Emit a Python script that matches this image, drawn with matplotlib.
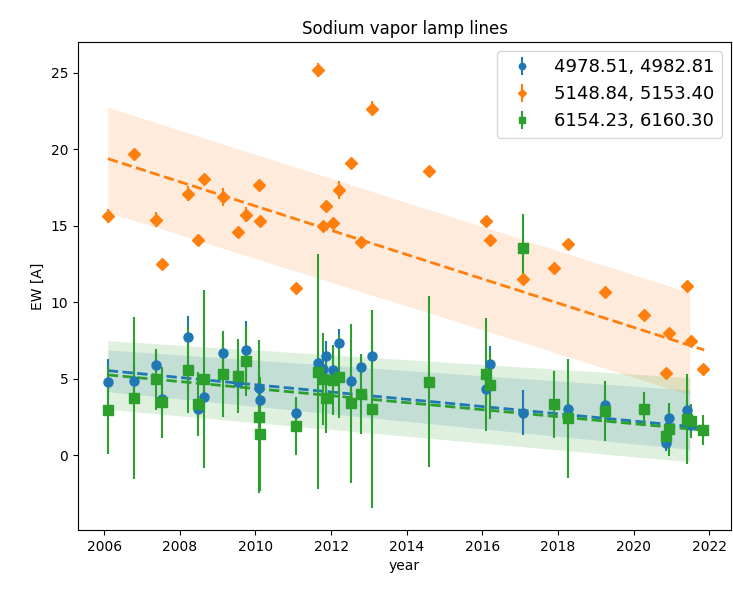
import numpy as np
import matplotlib
matplotlib.use("Agg")
import matplotlib.pyplot as plt

# ---- data ----
years = [2006.10, 2006.80, 2007.37, 2007.54, 2008.22, 2008.47, 2008.65, 2009.13,
         2009.53, 2009.74, 2010.09, 2010.11, 2011.08, 2011.65, 2011.78, 2011.87,
         2012.05, 2012.21, 2012.52, 2012.79, 2013.08, 2014.60, 2016.09, 2016.20,
         2017.06, 2017.89, 2018.26, 2019.23, 2020.28, 2020.86, 2020.94, 2021.41,
         2021.51, 2021.83]

# blue series has no visible points at 2014.60, 2017.89, 2020.28, 2021.83
years_b = [2006.10, 2006.80, 2007.37, 2007.54, 2008.22, 2008.47, 2008.65, 2009.13,
           2009.53, 2009.74, 2010.09, 2010.11, 2011.08, 2011.65, 2011.78, 2011.87,
           2012.05, 2012.21, 2012.52, 2012.79, 2013.08, 2016.09, 2016.20, 2017.06,
           2018.26, 2019.23, 2020.86, 2020.94, 2021.41, 2021.51]
ew_b = [4.76, 4.86, 5.89, 3.66, 7.70, 3.01, 3.82, 6.65, 4.80, 6.87, 4.36, 3.60,
        2.77, 6.00, 5.61, 6.48, 5.56, 7.35, 4.84, 5.78, 6.48, 4.30, 5.96, 2.77,
        3.01, 3.27, 0.77, 2.40, 2.94, 1.96]
err_b = [1.5, 1.0, 1.0, 1.0, 1.4, 0.8, 1.0, 1.0, 1.0, 1.9, 1.0, 1.0, 0.6, 1.0,
         1.0, 1.0, 1.0, 0.9, 1.0, 0.8, 1.0, 1.0, 1.2, 1.45, 0.8, 0.8, 0.5, 0.6,
         0.8, 0.6]

ew_o = [15.64, 19.68, 15.38, 12.50, 17.08, 14.07, 18.04, 16.86, 14.57, 15.71,
        17.62, 15.33, 10.90, 25.15, 14.99, 16.25, 15.20, 17.34, 19.09, 13.92,
        22.64, 18.59, 15.33, 14.03, 11.50, 12.22, 13.81, 10.65, 9.16, 5.35,
        7.96, 11.08, 7.48, 5.63]
err_o = [0.45, 0.3, 0.5, 0.3, 0.5, 0.3, 0.3, 0.6, 0.3, 0.5, 0.3, 0.3, 0.3, 0.45,
         0.3, 0.3, 0.3, 0.6, 0.3, 0.3, 0.5, 0.3, 0.3, 0.3, 0.3, 0.3, 0.3, 0.3,
         0.3, 0.3, 0.3, 0.3, 0.3, 0.3]

ew_g = [2.95, 3.71, 4.95, 3.44, 5.56, 3.34, 4.97, 5.28, 5.17, 6.15, 2.51, 1.37,
        1.90, 5.45, 4.95, 3.71, 4.91, 5.13, 3.38, 3.99, 3.01, 4.80, 5.28, 4.58,
        13.53, 3.32, 2.40, 2.88, 3.01, 1.26, 1.68, 2.34, 2.23, 1.64]
err_g = [2.9, 5.3, 2.0, 2.3, 2.8, 2.1, 5.8, 2.8, 2.4, 2.3, 5.0, 3.7, 1.9, 7.7,
         3.0, 2.3, 2.3, 2.7, 5.2, 2.6, 6.5, 5.6, 3.7, 2.2, 2.2, 2.2, 3.9, 1.95,
         1.1, 0.7, 1.75, 2.95, 1.1, 1.0]

labels = ["4978.51, 4982.81", "5148.84, 5153.40", "6154.23, 6160.30"]

# fitted trend lines and bands (end values)
fit_x = [2006.10, 2021.86]
band_x = [2006.10, 2021.48]
fit_b = [5.52, 1.78]
band_b_hi = [6.87, 4.25]
band_b_lo = [4.14, 0.37]
fit_o = [19.37, 6.87]
band_o_hi = [22.73, 10.62]
band_o_lo = [15.88, 3.93]
fit_g = [5.24, 1.62]
band_g_hi = [7.48, 5.06]
band_g_lo = [2.99, -0.44]

# ---- plot ----
fig = plt.figure(figsize=(7.33, 5.9), dpi=100)
ax = fig.add_axes([78 / 733, 60 / 590, 653 / 733, 488 / 590])

series = [
    (years_b, ew_b, err_b, "o", "C0", fit_b, band_b_lo, band_b_hi, labels[0]),
    (years, ew_o, err_o, "D", "C1", fit_o, band_o_lo, band_o_hi, labels[1]),
    (years, ew_g, err_g, "s", "C2", fit_g, band_g_lo, band_g_hi, labels[2]),
]

for x, y, e, m, c, fit, lo, hi, lab in series:
    ax.errorbar(x, y, yerr=e, fmt=m, color=c, markersize=6.5, label=lab, zorder=3)
    ax.plot(fit_x, fit, "--", color=c, linewidth=2, zorder=2)
    ax.fill_between(band_x, lo, hi, color=c, alpha=0.15, linewidth=0, zorder=1)

ax.set_xlim(2005.31, 2022.57)
ax.set_ylim(-4.9, 27.0)
ax.set_xticks(range(2006, 2023, 2))
ax.set_title("Sodium vapor lamp lines")
ax.set_xlabel("year")
ax.set_ylabel("EW [A]")
ax.legend(loc="upper right", fontsize=13, markerscale=0.7)

fig.savefig("out.png", dpi=100)
